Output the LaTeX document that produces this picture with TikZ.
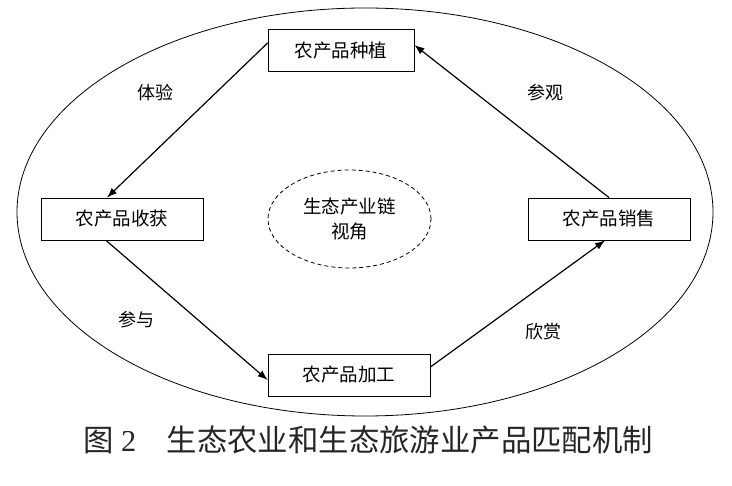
\documentclass[tikz,border=0pt]{standalone}
\usepackage{fontspec}
\setmainfont{Liberation Serif}
\newfontfamily\cjk{Noto Sans CJK SC}
\usetikzlibrary{arrows.meta,shapes.geometric}

\begin{document}
\begin{tikzpicture}[x=1pt,y=-1pt]
\tikzstyle{stage}=[rectangle, draw, line width=0.8pt, minimum width=162pt,
    minimum height=42pt, inner sep=0pt, font=\cjk\fontsize{18.5}{22}\selectfont]
\tikzstyle{flow}=[line width=1.2pt, -{Latex[length=10pt,width=7.5pt]}]
\tikzstyle{tag}=[font=\cjk\fontsize{18}{22}\selectfont]
\useasboundingbox (0,0) rectangle (732,486);

\draw[line width=0.8pt] (365,212) ellipse [x radius=348pt, y radius=204pt];

    \node[stage, minimum width=146pt] (plant) at (341,50) {农产品种植};
    \node[stage] (harvest) at (122,219) {农产品收获};
    \node[stage] (sale) at (609,219) {农产品销售};
    \node[stage] (proc) at (349,375) {农产品加工};

\node[ellipse, draw, dash pattern=on 4pt off 3pt, line width=0.8pt,
    minimum width=163pt, minimum height=98pt, align=center,
    font=\cjk\fontsize{18.5}{25}\selectfont] (view) at (349.5,219) {生态产业链\\视角};

\draw[flow] ([yshift=7pt]plant.west) -- ([xshift=-15pt]harvest.north);
\draw[flow] ([xshift=-16pt]harvest.south) -- ([yshift=-5pt]proc.west);
\draw[flow] ([yshift=8pt]proc.east) -- ([xshift=-4pt]sale.south);
\draw[flow] (sale.north) -- ([yshift=5pt]plant.east);

\node[tag] (t1) at (155,93) {体验};
\node[tag] (t2) at (545,93) {参观};
\node[tag] (t3) at (136,320) {参与};
\node[tag] (t4) at (543,332) {欣赏};

\node[anchor=west, inner sep=0pt, text=black!85, font=\fontsize{30.4}{36}\selectfont]
    (cap) at (83,440) {{\cjk 图}~2\quad{\cjk 生态农业和生态旅游业产品匹配机制}};
\end{tikzpicture}
\end{document}
